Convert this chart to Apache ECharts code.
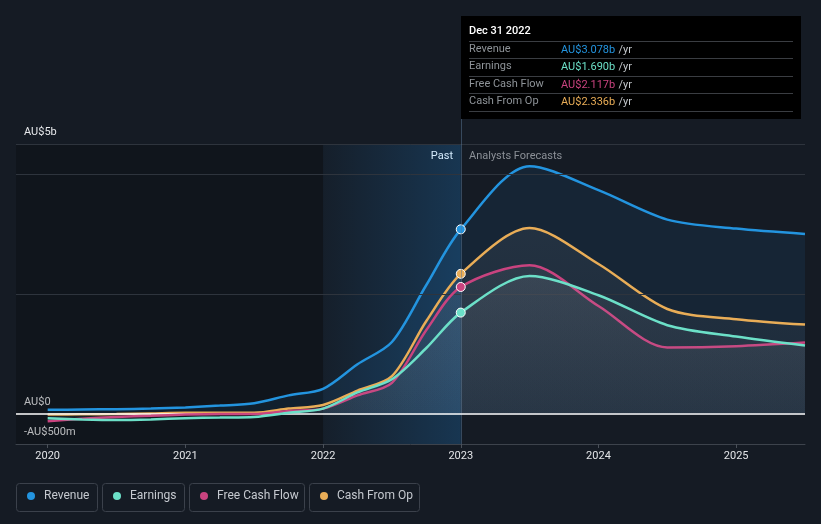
<!DOCTYPE html>
<html><head><meta charset="utf-8">
<script src="https://cdn.jsdelivr.net/npm/echarts@6/dist/echarts.min.js"></script>
<style>html,body{margin:0;padding:0;background:#151b24;}#c{width:821px;height:524px;}</style>
</head><body><div id="c"></div>
<script>
// ---- data (AU$ billions) ----
const years = [2020, 2020.25, 2020.5, 2020.75, 2021, 2021.25, 2021.5, 2021.75, 2022, 2022.25, 2022.5, 2022.75, 2023, 2023.5, 2024, 2024.5, 2025, 2025.5];
const revenue      = [0.07, 0.075, 0.08, 0.09, 0.11, 0.14, 0.18, 0.31, 0.42, 0.83, 1.2, 2.15, 3.078, 4.13, 3.73, 3.24, 3.09, 3.0];
const earnings     = [-0.07, -0.09, -0.1, -0.09, -0.07, -0.06, -0.05, 0.02, 0.09, 0.36, 0.58, 1.1, 1.69, 2.3, 1.98, 1.48, 1.29, 1.14];
const freeCashFlow = [-0.12, -0.08, -0.05, -0.03, -0.01, 0.0, 0.0, 0.05, 0.09, 0.31, 0.52, 1.4, 2.117, 2.48, 1.8, 1.11, 1.13, 1.19];
const cashFromOp   = [-0.01, -0.005, 0.0, 0.01, 0.02, 0.02, 0.02, 0.09, 0.15, 0.39, 0.63, 1.55, 2.336, 3.1, 2.5, 1.75, 1.58, 1.49];
const tickYears = [2020, 2021, 2022, 2023, 2024, 2025];
const seriesNames = ['Revenue', 'Earnings', 'Free Cash Flow', 'Cash From Op'];
const tooltipDate = 'Dec 31 2022';
const tooltipValues = ['AU$3.078b', 'AU$1.690b', 'AU$2.117b', 'AU$2.336b'];
const yLabels = ['AU$5b', 'AU$0', '-AU$500m'];
const pastYear = 2022, nowYear = 2023;

const FONT = 'Roboto, "Noto Sans", sans-serif';
const colors = {'Revenue':'#2394df','Earnings':'#6ce0c8','Free Cash Flow':'#c9437f','Cash From Op':'#e9ad57'};
const valuesByName = {'Revenue':revenue,'Earnings':earnings,'Free Cash Flow':freeCashFlow,'Cash From Op':cashFromOp};
const markIdx = years.indexOf(nowYear);

function mkData(vals, col){
  return years.map((y,i)=> i===markIdx
    ? {value:[y, vals[i]], symbol:'circle', symbolSize:9, itemStyle:{color:col, borderColor:'#ffffff', borderWidth:1}}
    : [y, vals[i]]);
}
function mkSeries(name, area, z){
  const col = colors[name];
  return {
    name, type:'line', z, smooth:0.3,
    symbol:'none', showSymbol:true, silent:true,
    data: mkData(valuesByName[name], col),
    lineStyle:{color:col, width:2.5},
    itemStyle:{color:col},
    areaStyle: Object.assign({origin:0}, area),
    emphasis:{disabled:true}
  };
}
const greyFill = {color:{type:'linear',x:0,y:0,x2:0,y2:1,colorStops:[{offset:0,color:'rgba(170,175,185,0.13)'},{offset:1,color:'rgba(170,175,185,0.06)'}]}};

const chart = echarts.init(document.getElementById('c'), null, {renderer:'canvas'});

const graphics = [];
[[yLabels[0],132],[yLabels[1],402],[yLabels[2],432]].forEach(([t,y])=>{
  graphics.push({type:'text', left:24, top:y-5, style:{text:t, fill:'#e6e8eb', font:'11px '+FONT}});
});
graphics.push({type:'text', right:821-453, top:151, style:{text:'Past', fill:'#ffffff', font:'11px '+FONT}});
graphics.push({type:'text', left:469, top:151, style:{text:'Analysts Forecasts', fill:'#8b9097', font:'11px '+FONT}});
graphics.push({type:'line', shape:{x1:461.5,y1:119,x2:461.5,y2:144}, style:{stroke:'rgba(90,120,150,0.5)', lineWidth:1}});
graphics.push({type:'rect', shape:{x:461,y:16,width:340,height:103}, style:{fill:'#000000'}});
graphics.push({type:'text', left:469, top:26, style:{text:tooltipDate, fill:'#ffffff', font:'500 11px '+FONT}});
[41.5,58.5,76.5,93.5,111.5].forEach(y=>graphics.push({type:'line', shape:{x1:469,y1:y,x2:793,y2:y}, style:{stroke:'#3a3d42', lineWidth:1}}));
const rowY = [49,66,84,101];
seriesNames.forEach((n,i)=>{
  graphics.push({type:'text', left:469, top:rowY[i]-5, style:{text:n, fill:'#8e9398', font:'11px '+FONT}});
  graphics.push({type:'text', left:561, top:rowY[i]-5, style:{
    text:'{v|'+tooltipValues[i]+'} {u|/yr}',
    rich:{v:{fill:colors[n], font:'11px '+FONT}, u:{fill:'#c4c8cc', font:'11px '+FONT}}
  }});
});
[[16,81],[102,82],[189,115],[309,110]].forEach(([x,w])=>{
  graphics.push({type:'rect', z:-1, shape:{x:x+0.5,y:483.5,width:w,height:28,r:3}, style:{fill:'none', stroke:'#3b414b', lineWidth:1}});
});

const legendLeft = [27, 113, 200, 320];

chart.setOption({
  backgroundColor:'#151b24',
  animation:false,
  textStyle:{fontFamily:FONT},
  grid:{left:16, right:16, top:144, bottom:80},
  xAxis:{type:'value', min:2019.77, max:2025.5,
    axisLine:{show:true, onZero:false, lineStyle:{color:'#3d434c', width:1}},
    axisTick:{show:true, customValues:tickYears, length:4, lineStyle:{color:'#4a5059'}},
    axisLabel:{show:true, customValues:tickYears, color:'#e3e5e8', fontSize:11, margin:7, formatter:v=>String(Math.round(v))},
    splitLine:{show:false}},
  yAxis:{type:'value', min:-0.5, max:4.5, show:false, splitLine:{show:false}},
  legend: seriesNames.map((n,i)=>({data:[n], left:legendLeft[i], top:490, padding:0, icon:'circle', itemWidth:8, itemHeight:8, selectedMode:false,
    textStyle:{color:'#c5c9cf', fontSize:12, fontFamily:FONT, padding:[0,0,0,4]}})),
  series:[
    {type:'line', name:'bg', z:1, silent:true, data:[[2020,null]], symbol:'none', lineStyle:{width:0},
      markArea:{silent:true, data:[
        [{xAxis:2019.77, itemStyle:{color:'rgba(0,0,0,0.2)'}},{xAxis:pastYear}],
        [{xAxis:pastYear, itemStyle:{color:{type:'linear',x:0,y:0,x2:1,y2:0,colorStops:[{offset:0,color:'rgba(33,150,243,0.03)'},{offset:1,color:'rgba(33,150,243,0.22)'}]}}},{xAxis:nowYear}]
      ]},
      markLine:{silent:true, symbol:'none', label:{show:false}, data:[
        {yAxis:4.5, lineStyle:{color:'#2e343d', width:1, type:'solid'}},
        {yAxis:4, lineStyle:{color:'#2e343d', width:1, type:'solid'}},
        {yAxis:2, lineStyle:{color:'#2e343d', width:1, type:'solid'}},
        {xAxis:nowYear, lineStyle:{color:'rgba(90,120,150,0.5)', width:1, type:'solid'}}
      ]}},
    mkSeries('Revenue', {color:'rgba(33,150,243,0.12)'}, 3),
    mkSeries('Cash From Op', greyFill, 4),
    mkSeries('Free Cash Flow', greyFill, 5),
    mkSeries('Earnings', greyFill, 6),
    {type:'line', name:'zero', z:7, silent:true, data:[[2020,null]], symbol:'none', lineStyle:{width:0},
      markLine:{silent:true, symbol:'none', label:{show:false}, data:[{yAxis:0, lineStyle:{color:'#ffffff', width:1.5, type:'solid'}}]}}
  ],
  graphic: graphics
});
</script></body></html>
